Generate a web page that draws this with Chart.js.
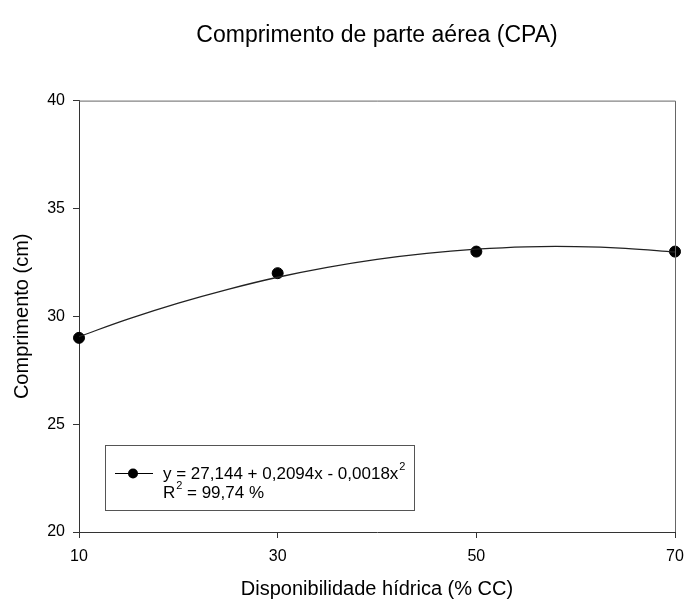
<!DOCTYPE html>
<html>
<head>
<meta charset="utf-8">
<script src="https://cdn.jsdelivr.net/npm/chart.js@4"></script>
<style>
  html, body { margin: 0; padding: 0; background: #fff; }
  #wrap { width: 689px; height: 601px; }
</style>
</head>
<body>
<div id="wrap"><canvas id="chart" width="689" height="601"></canvas></div>
<script>
// observed means
const waterLevels = [10, 30, 50, 70];
const lengthValues = [29.0, 32.0, 33.0, 33.0];

// fitted curve
const curveX = [10, 15, 20, 25, 30, 35, 40, 45, 50, 55, 60, 65, 70];
const curveY = [29.06, 29.88, 30.61, 31.25, 31.81, 32.27, 32.64, 32.92, 33.11, 33.22, 33.23, 33.15, 32.98];

const xTicks = [10, 30, 50, 70];
const yTicks = [20, 25, 30, 35, 40];

const FONT = "'Liberation Sans', Arial, sans-serif";

// box around the plot + legend box
const framePlugin = {
  id: 'frame',
  afterDraw(chart) {
    const { ctx, chartArea: a } = chart;
    ctx.save();
    ctx.strokeStyle = '#666';
    ctx.lineWidth = 1;
    ctx.beginPath();
    ctx.moveTo(a.left, a.top + 0.5);
    ctx.lineTo(a.right + 0.5, a.top + 0.5);
    ctx.lineTo(a.right + 0.5, a.bottom);
    ctx.stroke();

    // legend
    const bx = 105, by = 445, bw = 309, bh = 65;
    ctx.strokeStyle = '#555';
    ctx.strokeRect(bx + 0.5, by + 0.5, bw, bh);
    ctx.strokeStyle = '#000';
    ctx.beginPath();
    ctx.moveTo(115, 473.5);
    ctx.lineTo(153, 473.5);
    ctx.stroke();
    ctx.fillStyle = '#000';
    ctx.beginPath();
    ctx.arc(133, 473.5, 5, 0, Math.PI * 2);
    ctx.fill();

    const tx = 163;
    ctx.font = '17px ' + FONT;
    ctx.textBaseline = 'middle';
    ctx.textAlign = 'left';
    const t1 = 'y = 27,144 + 0,2094x - 0,0018x';
    ctx.fillText(t1, tx, 474);
    const w1 = ctx.measureText(t1).width;
    ctx.font = '11px ' + FONT;
    ctx.fillText('2', tx + w1 + 1, 467);
    ctx.font = '17px ' + FONT;
    ctx.fillText('R', tx, 493);
    const wr = ctx.measureText('R').width;
    ctx.font = '11px ' + FONT;
    ctx.fillText('2', tx + wr + 1, 486);
    ctx.font = '17px ' + FONT;
    ctx.fillText(' = 99,74 %', tx + wr + 7, 493);
    ctx.restore();
  }
};

new Chart(document.getElementById('chart'), {
  type: 'scatter',
  data: {
    datasets: [
      {
        type: 'line',
        label: 'ajuste',
        data: curveX.map((x, i) => ({ x: x, y: curveY[i] })),
        borderColor: '#222',
        borderWidth: 1.3,
        pointRadius: 0,
        tension: 0.4,
        fill: false
      },
      {
        label: 'CPA',
        data: waterLevels.map((x, i) => ({ x: x, y: lengthValues[i] })),
        backgroundColor: '#000',
        borderColor: '#000',
        pointRadius: 5.5,
        clip: false
      }
    ]
  },
  options: {
    responsive: false,
    animation: false,
    layout: { padding: { left: 0, right: 14, top: 0, bottom: 0 } },
    plugins: {
      legend: { display: false },
      tooltip: { enabled: false },
      title: {
        display: true,
        fullSize: false,
        text: 'Comprimento de parte aérea (CPA)',
        color: '#000',
        font: { family: FONT, size: 23, weight: 'normal' },
        padding: { top: 22, bottom: 51 }
      }
    },
    scales: {
      x: {
        type: 'linear',
        min: 10,
        max: 70,
        afterFit(scale) {
          scale.height = 69;
          scale.paddingLeft = 0;
          scale.paddingRight = 0;
        },
        afterBuildTicks(scale) { scale.ticks = xTicks.map(v => ({ value: v })); },
        border: { display: true, color: '#333', width: 1 },
        grid: { drawOnChartArea: false, drawTicks: true, tickLength: 6, color: '#333' },
        ticks: { color: '#000', padding: 9, font: { family: FONT, size: 16 } },
        title: {
          display: true,
          text: 'Disponibilidade hídrica (% CC)',
          color: '#000',
          font: { family: FONT, size: 20 },
          padding: { top: 0, bottom: 0 }
        }
      },
      y: {
        min: 20,
        max: 40,
        afterFit(scale) { scale.width = 79; },
        afterBuildTicks(scale) { scale.ticks = yTicks.map(v => ({ value: v })); },
        border: { display: true, color: '#333', width: 1 },
        grid: { drawOnChartArea: false, drawTicks: true, tickLength: 6, color: '#333' },
        ticks: { color: '#000', padding: 8, font: { family: FONT, size: 16 } },
        title: {
          display: true,
          text: 'Comprimento (cm)',
          color: '#000',
          font: { family: FONT, size: 20 },
          padding: { top: 10, bottom: 0 }
        }
      }
    }
  },
  plugins: [framePlugin]
});
</script>
</body>
</html>
